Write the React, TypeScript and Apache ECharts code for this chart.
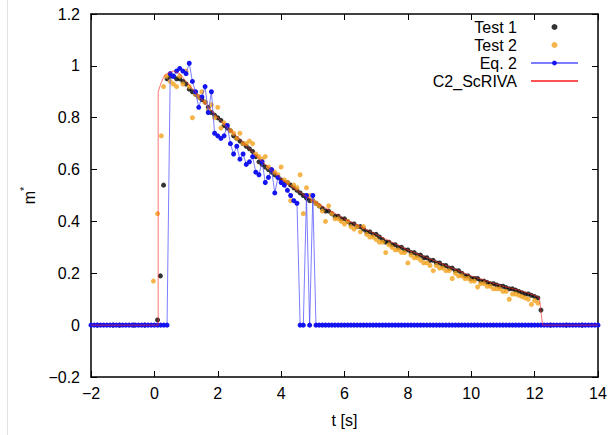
import React, { useEffect, useRef } from "react";
import * as echarts from "echarts";

// ---- axis ranges ----
const X_MIN = -2;
const X_MAX = 14;
const X_STEP = 2;
const Y_MIN = -0.2;
const Y_MAX = 1.2;
const Y_STEP = 0.2;

// ---- Test 1 (black dots) ----
const test1Times = [
  -1.8, -1.3, -1.1, -0.65, -0.3,
  0.1, 0.19, 0.29, 0.4, 0.5, 0.6, 0.7, 0.8, 0.9, 1.0,
  1.1, 1.2, 1.3, 1.4, 1.5, 1.6, 1.7, 1.8, 1.9, 2.0,
  2.1, 2.2, 2.3, 2.4, 2.5, 2.6, 2.7, 2.8, 2.9, 3.0,
  3.1, 3.2, 3.3, 3.4, 3.5, 3.6, 3.7, 3.8, 3.9, 4.0,
  4.1, 4.2, 4.3, 4.4, 4.5, 4.6, 4.7, 4.8, 4.9, 5.0,
  5.1, 5.2, 5.3, 5.4, 5.5, 5.6, 5.7, 5.8, 5.9, 6.0,
  6.1, 6.2, 6.3, 6.4, 6.5, 6.6, 6.7, 6.8, 6.9, 7.0,
  7.1, 7.2, 7.3, 7.4, 7.5, 7.6, 7.7, 7.8, 7.9, 8.0,
  8.1, 8.2, 8.3, 8.4, 8.5, 8.6, 8.7, 8.8, 8.9, 9.0,
  9.1, 9.2, 9.3, 9.4, 9.5, 9.6, 9.7, 9.8, 9.9, 10.0,
  10.1, 10.2, 10.3, 10.4, 10.5, 10.6, 10.7, 10.8, 10.9, 11.0,
  11.1, 11.2, 11.3, 11.4, 11.5, 11.6, 11.7, 11.8, 11.9, 12.0,
  12.1, 12.2,
  12.5, 13.0, 13.5,
];
const test1Values = [
  0, 0, 0, 0, 0,
  0.02, 0.19, 0.54, 0.95, 0.96, 0.96, 0.95, 0.95, 0.94, 0.93,
  0.91, 0.9, 0.89, 0.88, 0.87, 0.86, 0.84, 0.82, 0.81, 0.8,
  0.79, 0.77, 0.76, 0.75, 0.73, 0.72, 0.71, 0.7, 0.69, 0.68,
  0.67, 0.65, 0.63, 0.62, 0.61, 0.6, 0.59, 0.58, 0.57, 0.56,
  0.55, 0.55, 0.54, 0.53, 0.52, 0.51, 0.5, 0.49, 0.48, 0.48,
  0.47, 0.46, 0.45, 0.44, 0.44, 0.43, 0.42, 0.42, 0.41, 0.41,
  0.4, 0.39, 0.39, 0.38, 0.38, 0.37, 0.36, 0.36, 0.35, 0.35,
  0.34, 0.33, 0.32, 0.32, 0.31, 0.31, 0.3, 0.3, 0.29, 0.29,
  0.28, 0.28, 0.27, 0.27, 0.26, 0.26, 0.25, 0.25, 0.24, 0.24,
  0.23, 0.23, 0.22, 0.22, 0.21, 0.21, 0.2, 0.19, 0.19, 0.18,
  0.18, 0.18, 0.17, 0.17, 0.165, 0.16, 0.16, 0.155, 0.15, 0.15,
  0.145, 0.14, 0.14, 0.135, 0.13, 0.125, 0.12, 0.12, 0.115, 0.11,
  0.105, 0.058,
  0, 0, 0,
];

// ---- Test 2 (orange dots) ----
const test2Times = [
  -0.03, 0.1, 0.22, 0.29,
  0.38, 0.5, 0.6, 0.7, 0.8, 0.9, 1.0,
  1.1, 1.2, 1.3, 1.4, 1.5, 1.6, 1.7, 1.8, 1.9, 2.0,
  2.1, 2.2, 2.3, 2.4, 2.5, 2.6, 2.7, 2.8, 2.9, 3.0,
  3.1, 3.2, 3.3, 3.4, 3.5, 3.6, 3.7, 3.8, 3.9, 4.0,
  4.1, 4.2, 4.3, 4.4, 4.5, 4.6, 4.7, 4.8, 4.9, 5.0,
  5.1, 5.2, 5.3, 5.4, 5.5, 5.6, 5.7, 5.8, 5.9, 6.0,
  6.1, 6.2, 6.3, 6.4, 6.5, 6.6, 6.7, 6.8, 6.9, 7.0,
  7.1, 7.2, 7.3, 7.4, 7.5, 7.6, 7.7, 7.8, 7.9, 8.0,
  8.1, 8.2, 8.3, 8.4, 8.5, 8.6, 8.7, 8.8, 8.9, 9.0,
  9.1, 9.2, 9.3, 9.4, 9.5, 9.6, 9.7, 9.8, 9.9, 10.0,
  10.1, 10.2, 10.3, 10.4, 10.5, 10.6, 10.7, 10.8, 10.9, 11.0,
  11.1, 11.2, 11.3, 11.4, 11.5, 11.6, 11.7, 11.8, 11.9, 12.0,
  12.1,
];
const test2Values = [
  0.17, 0.43, 0.73, 0.92,
  0.96, 0.94, 0.93, 0.92, 0.96, 0.93, 0.98,
  0.92, 0.8, 0.89, 0.88, 0.9, 0.86, 0.83, 0.85, 0.8, 0.84,
  0.76, 0.78, 0.77, 0.75, 0.74, 0.72, 0.74, 0.7, 0.7, 0.71,
  0.7, 0.66, 0.65, 0.64, 0.65, 0.61, 0.6, 0.59, 0.58, 0.61,
  0.56, 0.55, 0.48, 0.54, 0.53, 0.58, 0.43, 0.53, 0.5, 0.48,
  0.47, 0.46, 0.44, 0.4, 0.46, 0.43, 0.41, 0.41, 0.4, 0.39,
  0.4, 0.38, 0.37, 0.38, 0.36, 0.38, 0.35, 0.34, 0.34, 0.33,
  0.32, 0.32, 0.28, 0.31, 0.3, 0.29, 0.29, 0.28, 0.28, 0.24,
  0.27, 0.26, 0.26, 0.25, 0.24, 0.24, 0.23, 0.21, 0.23, 0.22,
  0.22, 0.21, 0.21, 0.18, 0.2, 0.19, 0.19, 0.18, 0.18, 0.17,
  0.17, 0.147, 0.16, 0.16, 0.15, 0.15, 0.14, 0.14, 0.14, 0.13,
  0.13, 0.1, 0.12, 0.12, 0.115, 0.11, 0.105, 0.1, 0.08, 0.095,
  0.085,
];

// ---- Eq. 2 (blue line with dots) ----
const eq2Times = [
  -2.0, -1.9, -1.8, -1.7, -1.6, -1.5, -1.4, -1.3, -1.2, -1.1,
  -1.0, -0.9, -0.8, -0.7, -0.6, -0.5, -0.4, -0.3, -0.2, -0.1,
  0.0, 0.1, 0.2, 0.3, 0.4,
  0.5, 0.6, 0.7, 0.8, 0.9, 1.0, 1.1, 1.2, 1.3, 1.4,
  1.5, 1.6, 1.7, 1.8, 1.9, 2.0, 2.1, 2.2, 2.3, 2.4,
  2.5, 2.6, 2.7, 2.8, 2.9, 3.0, 3.1, 3.2, 3.3, 3.4,
  3.5, 3.6, 3.7, 3.8, 3.9, 4.0, 4.1, 4.2, 4.3, 4.4,
  4.5, 4.6, 4.7, 4.8, 4.9, 5.0, 5.1,
  5.2, 5.3, 5.4, 5.5, 5.6, 5.7, 5.8, 5.9, 6.0, 6.1,
  6.2, 6.3, 6.4, 6.5, 6.6, 6.7, 6.8, 6.9, 7.0, 7.1,
  7.2, 7.3, 7.4, 7.5, 7.6, 7.7, 7.8, 7.9, 8.0, 8.1,
  8.2, 8.3, 8.4, 8.5, 8.6, 8.7, 8.8, 8.9, 9.0, 9.1,
  9.2, 9.3, 9.4, 9.5, 9.6, 9.7, 9.8, 9.9, 10.0, 10.1,
  10.2, 10.3, 10.4, 10.5, 10.6, 10.7, 10.8, 10.9, 11.0, 11.1,
  11.2, 11.3, 11.4, 11.5, 11.6, 11.7, 11.8, 11.9, 12.0, 12.1,
  12.2, 12.3, 12.4, 12.5, 12.6, 12.7, 12.8, 12.9, 13.0, 13.1,
  13.2, 13.3, 13.4, 13.5, 13.6, 13.7, 13.8, 13.9, 14.0,
];
const eq2Values = [
  0, 0, 0, 0, 0, 0, 0, 0, 0, 0,
  0, 0, 0, 0, 0, 0, 0, 0, 0, 0,
  0, 0, 0, 0, 0,
  0.97, 0.96, 0.98, 0.99, 0.98, 0.97, 1.01, 0.94, 0.9, 0.84,
  0.88, 0.92, 0.82, 0.9, 0.74, 0.73, 0.72, 0.73, 0.77, 0.7,
  0.66, 0.69, 0.64, 0.66, 0.62, 0.63, 0.65, 0.59, 0.58, 0.63,
  0.55, 0.57, 0.6, 0.51, 0.57, 0.55, 0.54, 0.52, 0.5, 0.48,
  0.47, 0, 0, 0.5, 0, 0.5, 0,
  0, 0, 0, 0, 0, 0, 0, 0, 0, 0,
  0, 0, 0, 0, 0, 0, 0, 0, 0, 0,
  0, 0, 0, 0, 0, 0, 0, 0, 0, 0,
  0, 0, 0, 0, 0, 0, 0, 0, 0, 0,
  0, 0, 0, 0, 0, 0, 0, 0, 0, 0,
  0, 0, 0, 0, 0, 0, 0, 0, 0, 0,
  0, 0, 0, 0, 0, 0, 0, 0, 0, 0,
  0, 0, 0, 0, 0, 0, 0, 0, 0, 0,
  0, 0, 0, 0, 0, 0, 0, 0, 0,
];

// ---- C2_ScRIVA (red line) ----
const c2Times = [
  -2, 0.12, 0.12, 0.2, 0.3, 0.4, 0.6, 0.8, 1.0, 1.5, 2.0, 2.5, 3.0, 3.5, 4.0,
  4.5, 5.0, 5.5, 6.0, 6.5, 7.0, 7.5, 8.0, 8.5, 9.0, 9.5, 10.0, 10.5, 11.0,
  11.5, 12.0, 12.15, 12.25, 14,
];
const c2Values = [
  0, 0, 0.9, 0.93, 0.96, 0.97, 0.98, 0.97, 0.94, 0.87, 0.8, 0.74, 0.68, 0.62,
  0.565, 0.52, 0.48, 0.445, 0.41, 0.38, 0.35, 0.32, 0.29, 0.265, 0.24, 0.215,
  0.19, 0.17, 0.15, 0.135, 0.115, 0.105, 0, 0,
];

const seriesNames = ["Test 1", "Test 2", "Eq. 2", "C2_ScRIVA"];

const FONT = "'Liberation Sans', Arial, Helvetica, sans-serif";

const zip = (ts: number[], vs: number[]) => ts.map((t, i) => [t, vs[i]]);
const fmt = (v: number) => String(Math.round(v * 1000) / 1000).replace("-", "\u2212");

export default function App() {
  const ref = useRef<HTMLDivElement>(null);

  useEffect(() => {
    document.body.style.margin = "0";
    if (!ref.current) return;
    const chart = echarts.init(ref.current, null, { renderer: "svg" });

    const axisLine = { show: true, onZero: false, lineStyle: { color: "#000", width: 1.5 } };
    const axisTick = { show: true, inside: true, length: 6, lineStyle: { color: "#000", width: 1 } };
    const labelStyle = { color: "#000", fontSize: 16, fontFamily: FONT };

    chart.setOption({
      animation: false,
      backgroundColor: "#fff",
      grid: { left: 91, right: 12, top: 14, bottom: 58 },
      graphic: [
        {
          type: "line",
          shape: { x1: 7.5, y1: 0, x2: 7.5, y2: 435 },
          style: { stroke: "#e2e2e2", lineWidth: 1 },
          silent: true,
        },
      ],
      legend: {
        orient: "vertical",
        right: 31,
        top: 19,
        padding: 0,
        align: "right",
        itemWidth: 47,
        itemHeight: 6,
        itemGap: 2,
        selectedMode: false,
        textStyle: {
          fontSize: 16,
          color: "#000",
          fontFamily: FONT,
          lineHeight: 16,
          padding: [0, 9, 0, 0],
        },
        data: [
          { name: seriesNames[0] },
          { name: seriesNames[1] },
          { name: seriesNames[2] },
          { name: seriesNames[3], itemStyle: { opacity: 0 } },
        ],
      },
      xAxis: [
        {
          type: "value",
          min: X_MIN,
          max: X_MAX,
          interval: X_STEP,
          position: "bottom",
          name: "t [s]",
          nameLocation: "middle",
          nameGap: 35,
          nameTextStyle: { ...labelStyle },
          axisLine,
          axisTick,
          splitLine: { show: false },
          axisLabel: { ...labelStyle, margin: 8, formatter: fmt },
        },
        {
          type: "value",
          min: X_MIN,
          max: X_MAX,
          interval: X_STEP,
          position: "top",
          axisLine,
          axisTick,
          splitLine: { show: false },
          axisLabel: { show: false },
        },
      ],
      yAxis: [
        {
          type: "value",
          min: Y_MIN,
          max: Y_MAX,
          interval: Y_STEP,
          position: "left",
          name: "{m|m}{s|*}",
          nameLocation: "middle",
          nameGap: 50,
          nameRotate: 90,
          nameTextStyle: {
            ...labelStyle,
            rich: {
              m: { fontSize: 16, fontFamily: FONT, color: "#000" },
              s: { fontSize: 11, fontFamily: FONT, color: "#000", padding: [0, 0, 12, 0] },
            },
          },
          axisLine,
          axisTick,
          splitLine: { show: false },
          axisLabel: { ...labelStyle, margin: 11, formatter: fmt },
        },
        {
          type: "value",
          min: Y_MIN,
          max: Y_MAX,
          interval: Y_STEP,
          position: "right",
          axisLine,
          axisTick,
          splitLine: { show: false },
          axisLabel: { show: false },
        },
      ],
      series: [
        {
          name: seriesNames[0],
          type: "scatter",
          data: zip(test1Times, test1Values),
          symbol: "circle",
          symbolSize: 5,
          itemStyle: { color: "#000" },
          z: 2,
        },
        {
          name: seriesNames[1],
          type: "scatter",
          data: zip(test2Times, test2Values),
          symbol: "circle",
          symbolSize: 5,
          itemStyle: { color: "#f2a21e" },
          z: 3,
        },
        {
          name: seriesNames[2],
          type: "line",
          data: zip(eq2Times, eq2Values),
          symbol: "circle",
          symbolSize: 5,
          showSymbol: true,
          showAllSymbol: true,
          itemStyle: { color: "#1414f0" },
          lineStyle: { color: "rgba(70,70,255,0.7)", width: 1 },
          z: 4,
        },
        {
          name: seriesNames[3],
          type: "line",
          data: zip(c2Times, c2Values),
          symbol: "none",
          showSymbol: false,
          itemStyle: { color: "#ff4040" },
          lineStyle: { color: "rgba(255,40,40,0.8)", width: 0.8 },
          z: 5,
        },
      ],
    });

    return () => chart.dispose();
  }, []);

  return (
    <div
      ref={ref}
      style={{ position: "absolute", left: 0, top: 0, width: 610, height: 435 }}
    />
  );
}
